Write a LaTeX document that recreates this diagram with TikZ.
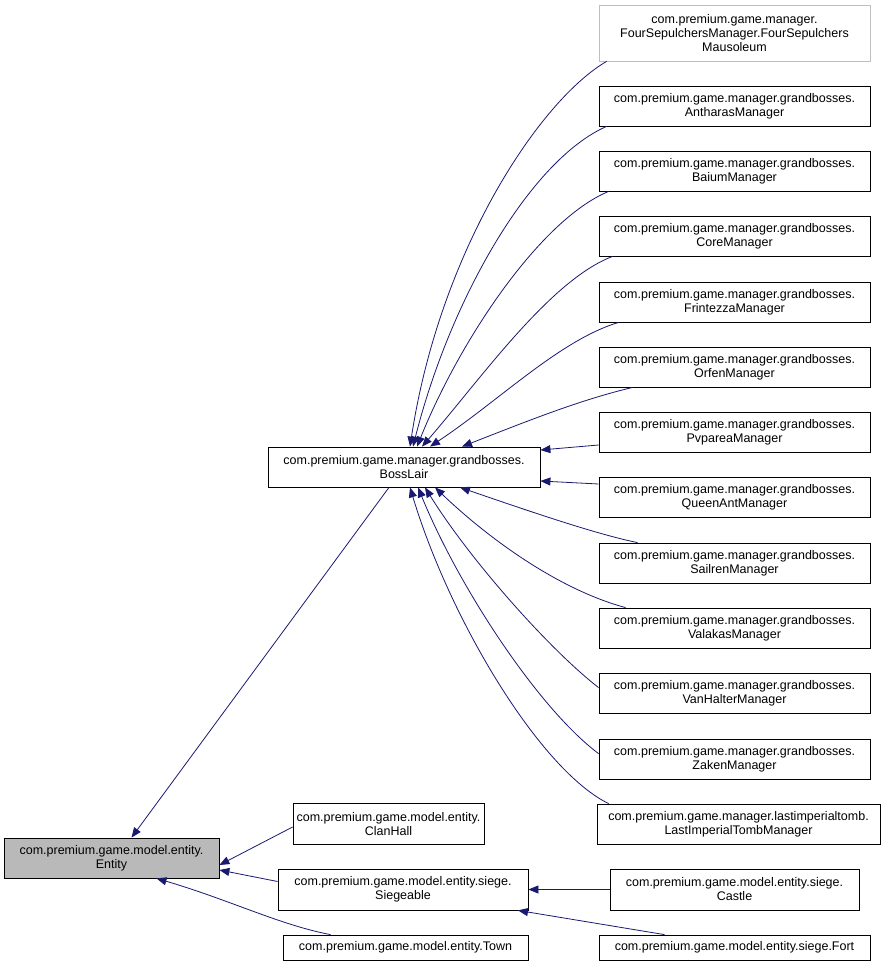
\documentclass[tikz,border=0pt]{standalone}
\usepackage{fontspec}
\setmainfont{Liberation Sans}
\usetikzlibrary{arrows.meta}
\definecolor{navy}{RGB}{25,25,112}
\begin{document}
\begin{tikzpicture}[x=1pt,y=-1pt,
  box/.style={draw=black,line width=0.8pt,fill=white,inner sep=0pt,align=center,
    font=\fontsize{12.5}{14}\selectfont},
  edge/.style={draw=navy,line width=0.8pt,{Triangle[length=10pt,width=8pt]}-}]
\useasboundingbox (0,0) rectangle (887,968);
\newcommand\bx[6]{\node[box,#6,minimum width={#4-#2},minimum height={#5-#3}] (#1) at ({(#2+#4)/2},{(#3+#5)/2}) {\strut};}
\node[box,fill=gray!55,minimum width=215,minimum height=40] (ent) at (111.5,858) {com.premium.game.model.entity.\\Entity};
\node[box,minimum width=272,minimum height=40] (bl) at (404,467) {com.premium.game.manager.grandbosses.\\BossLair};
\node[box,minimum width=191,minimum height=41] (ch) at (388.5,824) {com.premium.game.model.entity.\\ClanHall};
\node[box,minimum width=250,minimum height=41] (sg) at (403,889.5) {com.premium.game.model.entity.siege.\\Siegeable};
\node[box,minimum width=245,minimum height=25] (tw) at (405.5,947.5) {com.premium.game.model.entity.Town};
\node[box,draw=gray!50,minimum width=271,minimum height=56] (fs) at (734.5,33) {com.premium.game.manager.\\FourSepulchersManager.FourSepulchers\\Mausoleum};
\node[box,minimum width=271,minimum height=40] (an) at (734.5,106) {com.premium.game.manager.grandbosses.\\AntharasManager};
\node[box,minimum width=271,minimum height=40] (ba) at (734.5,171) {com.premium.game.manager.grandbosses.\\BaiumManager};
\node[box,minimum width=271,minimum height=40] (co) at (734.5,236) {com.premium.game.manager.grandbosses.\\CoreManager};
\node[box,minimum width=271,minimum height=40] (fr) at (734.5,302) {com.premium.game.manager.grandbosses.\\FrintezzaManager};
\node[box,minimum width=271,minimum height=40] (or) at (734.5,367) {com.premium.game.manager.grandbosses.\\OrfenManager};
\node[box,minimum width=271,minimum height=40] (pv) at (734.5,432) {com.premium.game.manager.grandbosses.\\PvpareaManager};
\node[box,minimum width=271,minimum height=40] (qa) at (734.5,497) {com.premium.game.manager.grandbosses.\\QueenAntManager};
\node[box,minimum width=271,minimum height=40] (sa) at (734.5,563) {com.premium.game.manager.grandbosses.\\SailrenManager};
\node[box,minimum width=271,minimum height=40] (va) at (734.5,628) {com.premium.game.manager.grandbosses.\\ValakasManager};
\node[box,minimum width=271,minimum height=40] (vh) at (734.5,693) {com.premium.game.manager.grandbosses.\\VanHalterManager};
\node[box,minimum width=271,minimum height=40] (za) at (734.5,759) {com.premium.game.manager.grandbosses.\\ZakenManager};
\node[box,minimum width=283,minimum height=40] (li) at (738.5,824) {com.premium.game.manager.lastimperialtomb.\\LastImperialTombManager};
\node[box,minimum width=249,minimum height=41] (ca) at (734.5,889.5) {com.premium.game.model.entity.siege.\\Castle};
\node[box,minimum width=271,minimum height=25] (fo) at (734.5,947.5) {com.premium.game.model.entity.siege.Fort};
% edges
\draw[edge] ([xshift=6pt]bl.north) .. controls (440,250) and (540,100) .. ([xshift=8pt]fs.south west);
\draw[edge] ([xshift=9pt]bl.north) .. controls (450,300) and (530,160) .. ([xshift=8pt]an.south west);
\draw[edge] ([xshift=13pt]bl.north) .. controls (460,340) and (540,220) .. ([xshift=10pt]ba.south west);
\draw[edge] ([xshift=18pt]bl.north) .. controls (480,380) and (550,280) .. ([xshift=14pt]co.south west);
\draw[edge] ([xshift=26pt]bl.north) .. controls (500,400) and (560,340) .. ([xshift=20pt]fr.south west);
\draw[edge] ([xshift=58pt]bl.north) .. controls (530,420) and (580,400) .. ([xshift=34pt]or.south west);
\draw[edge] ([yshift=17pt]bl.east) -- ([yshift=-13pt]pv.west);
\draw[edge] ([yshift=-14pt]bl.east) -- ([yshift=13pt]qa.west);
\draw[edge] ([xshift=56pt]bl.south) .. controls (540,515) and (600,535) .. ([xshift=39pt]sa.north west);
\draw[edge] ([xshift=31pt]bl.south) .. controls (490,540) and (560,590) .. ([xshift=27pt]va.north west);
\draw[edge] ([xshift=21pt]bl.south) .. controls (470,560) and (550,650) .. ([yshift=-15pt]vh.north west);
\draw[edge] ([xshift=14pt]bl.south) .. controls (460,590) and (540,710) .. ([yshift=-15pt]za.north west);
\draw[edge] ([xshift=6pt]bl.south) .. controls (450,620) and (540,770) .. ([xshift=12pt]li.north west);
\draw[edge] ([xshift=20pt]ent.north) -- ([xshift=-15pt]bl.south);
\draw[edge] ([yshift=-7pt]ent.east) -- ([yshift=-3pt]ch.west);
\draw[edge] ([yshift=-12pt]ent.east) -- ([yshift=8pt]sg.west);
\draw[edge] ([xshift=45pt]ent.south) .. controls (230,900) and (280,925) .. ([xshift=-75pt]tw.north);
\draw[edge] ([yshift=-0pt]sg.east) -- (ca.west);
\draw[edge] ([xshift=115pt]sg.south) -- ([xshift=-70pt]fo.north);
\end{tikzpicture}
\end{document}
